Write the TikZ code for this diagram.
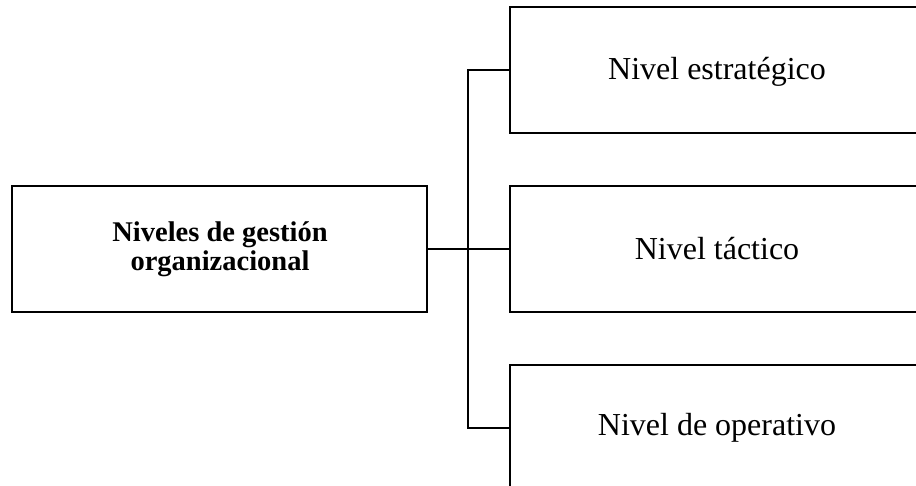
\documentclass[tikz,border=0pt]{standalone}
\usepackage{fontspec}
\setmainfont{Liberation Serif}
\begin{document}
\begin{tikzpicture}[x=1pt,y=-1pt,
  box/.style={draw=black, line width=2pt, fill=white, rectangle, inner sep=0pt,
              minimum width=#1, minimum height=126pt},
  label/.style={font=\fontsize{32}{36}\selectfont, inner sep=0pt, anchor=base},
  bold/.style={font=\fontsize{28.5}{30}\selectfont\bfseries, inner sep=0pt, anchor=base},
  wire/.style={draw=black, line width=2pt}]
  \useasboundingbox (0,0) rectangle (916,486);
  \clip (0,0) rectangle (916,486);

  % main box on the left
  \node[box=415pt] (main) at (219.5,249.5) {};
  \node[bold] (mainA) at (220,242) {Niveles de gestión};
  \node[bold] (mainB) at (220,270.5) {organizacional};

  % the three levels, running past the right edge
  \node[box=421pt] (top) at (720,70) {};
  \node[box=421pt] (mid) at (720,249.5) {};
  \node[box=421pt] (bot) at (720,428) {};
  \node[label] (toptxt) at (717,79.3) {Nivel estratégico};
  \node[label] (midtxt) at (717,259.3) {Nivel táctico};
  \node[label] (bottxt) at (717,435.7) {Nivel de operativo};

  % bracket connector
  \coordinate (bus) at (468,249.5);
  \draw[wire] (main.east) -- (mid.west);
  \draw[wire] (top.west) -| (bus) |- (bot.west);
\end{tikzpicture}
\end{document}
